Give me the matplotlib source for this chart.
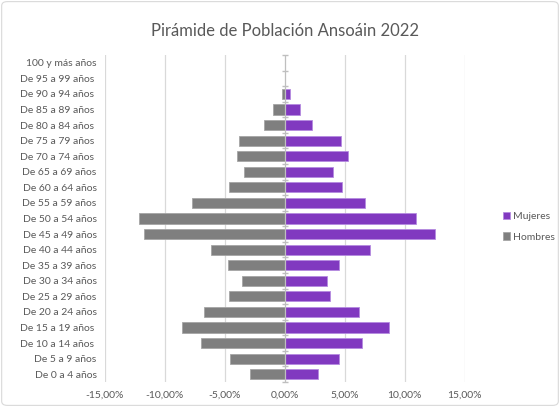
import matplotlib.pyplot as plt
from matplotlib.patches import FancyBboxPatch
from matplotlib.ticker import FuncFormatter

plt.rcParams["font.family"] = ["Lato", "DejaVu Sans"]

# age groups, from youngest (bottom) to oldest (top)
grupos = ["De 0 a 4 años", "De 5 a 9 años", "De 10 a 14 años ", "De 15 a 19 años ",
          "De 20 a 24 años", "De 25 a 29 años", "De 30 a 34 años", "De 35 a 39 años",
          "De 40 a 44 años", "De 45 a 49 años", "De 50 a 54 años", "De 55 a 59 años",
          "De 60 a 64 años", "De 65 a 69 años", "De 70 a 74 años ", "De 75 a 79 años ",
          "De 80 a 84 años ", "De 85 a 89 años ", "De 90 a 94 años ", "De 95 a 99 años ",
          "100 y más años"]

hombres = [2.89, 4.56, 6.97, 8.61, 6.72, 4.64, 3.61, 4.78, 6.14, 11.75, 12.17,
           7.78, 4.64, 3.42, 4.03, 3.86, 1.72, 0.97, 0.28, 0.0, 0.0]
mujeres = [2.75, 4.47, 6.47, 8.67, 6.14, 3.72, 3.53, 4.47, 7.06, 12.53, 10.97,
           6.67, 4.75, 3.97, 5.25, 4.69, 2.28, 1.28, 0.44, 0.0, 0.0]

x_ticks = [-15, -10, -5, 0, 5, 10, 15]

morado = "#8139C0"
gris = "#7F7F7F"
texto = "#595959"

fig = plt.figure(figsize=(5.6, 4.07), dpi=100)
ax = fig.add_axes([0.1875, 0.0614, 0.6425, 0.8036])

pos = list(range(len(grupos)))
ax.barh(pos, mujeres, height=0.65, color=morado, edgecolor="#B58BE0", linewidth=0.6,
        label="Mujeres", zorder=3)
ax.barh(pos, [-h for h in hombres], height=0.65, color=gris, edgecolor="#A6A6A6",
        linewidth=0.6, label="Hombres", zorder=3)

ax.set_xlim(-15, 15)
ax.set_ylim(-0.5, len(grupos) - 0.5)
ax.set_xticks(x_ticks)
ax.xaxis.set_major_formatter(FuncFormatter(lambda v, p: f"{v:.2f}%".replace(".", ",")))
ax.set_yticks(pos)
ax.set_yticklabels(grupos)
ax.tick_params(axis="both", length=0, labelsize=7.5, colors=texto)
ax.tick_params(axis="x", pad=6)
ax.tick_params(axis="y", pad=6)

for s in ax.spines.values():
    s.set_visible(False)
for v in x_ticks:
    if v != 0:
        ax.axvline(v, color="#D9D9D9", linewidth=0.9, zorder=1)
ax.axvline(0, color="#BFBFBF", linewidth=0.9, zorder=4)
# little category ticks on the zero axis
bordes = [p - 0.5 for p in pos] + [len(grupos) - 0.5]
ax.plot([0] * len(bordes), bordes, linestyle="none", marker="_", markersize=4,
        color="#BFBFBF", zorder=4, clip_on=False)

ax.set_title("Pirámide de Población Ansoáin 2022", fontsize=12, color=texto, pad=14)

ax.legend(loc="center left", bbox_to_anchor=(1.08, 0.475), frameon=False,
          fontsize=7.5, labelcolor=texto, handlelength=0.7, handleheight=0.7,
          handletextpad=0.3, labelspacing=1.1)

fig.patches.append(FancyBboxPatch((0.003, 0.004), 0.994, 0.992,
                                  boxstyle="round,pad=0,rounding_size=0.01",
                                  transform=fig.transFigure, fill=False,
                                  edgecolor="#D9D9D9", linewidth=0.8))

fig.savefig("out.png", dpi=100)
